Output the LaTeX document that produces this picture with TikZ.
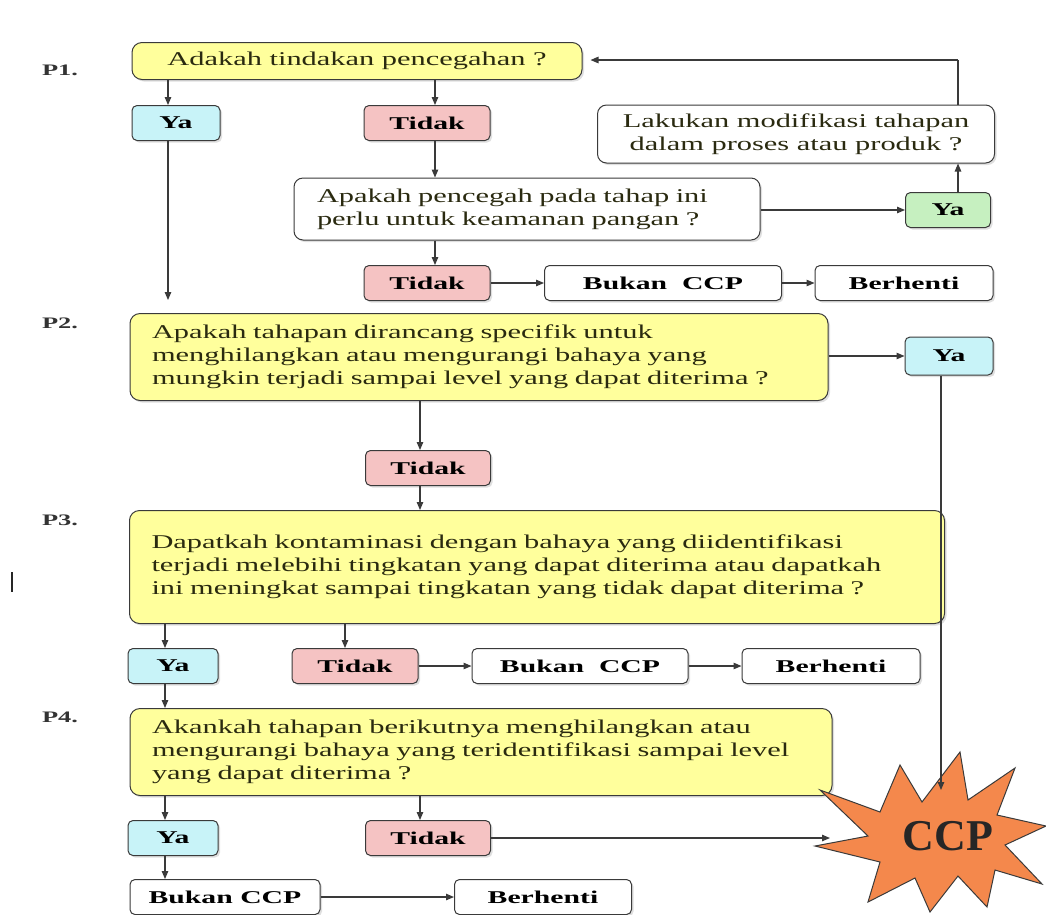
\documentclass[tikz,border=0pt]{standalone}
\usepackage{fontspec}
\setmainfont{Liberation Serif}
\newfontfamily\qfont[FakeStretch=1.56]{Liberation Serif}
\newfontfamily\lfont[FakeStretch=1.65]{Liberation Serif}
\usetikzlibrary{arrows.meta,shadows}
\definecolor{qyel}{HTML}{FFFF9C}
\definecolor{ycyan}{HTML}{C8F3F8}
\definecolor{npink}{HTML}{F5C3C3}
\definecolor{ygreen}{HTML}{C6F0C0}
\definecolor{edge}{HTML}{3A3A3A}
\definecolor{qtext}{HTML}{2A2A10}
\definecolor{ccporange}{HTML}{F4884C}
\begin{document}
\begin{tikzpicture}[x=1pt,y=-1pt,
  base/.style={draw=edge, line width=1pt, inner sep=0pt, text=black,
    drop shadow={shadow xshift=2pt, shadow yshift=-2pt, opacity=0.25}},
  qbox/.style={base, fill=qyel, rounded corners=10pt, text=qtext, font=\qfont\fontsize{19.5}{23}\selectfont},
  wbox/.style={base, fill=white, rounded corners=9pt, text=qtext, font=\qfont\fontsize{19.5}{23}\selectfont},
  lbl/.style={base, rounded corners=5pt, font=\lfont\bfseries\fontsize{18}{21}\selectfont},
  yes/.style={lbl, fill=ycyan},
  nope/.style={lbl, fill=npink},
  yesg/.style={lbl, fill=ygreen},
  plain/.style={lbl, fill=white},
  plab/.style={font=\lfont\bfseries\fontsize{16}{19}\selectfont, text=black!80},
  arr/.style={draw=edge, line width=1.1pt, -{Triangle[length=8pt,width=6.5pt]}},
  ln/.style={draw=edge, line width=1.1pt}
]
\clip (0,0) rectangle (1046,914);
\fill[white] (0,0) rectangle (1046,914);

% margin marks
\node[plab] (p1) at (60,70) {P1.};
\node[plab] (p2) at (60,323) {P2.};
\node[plab] (p3) at (60,520) {P3.};
\node[plab] (p4) at (60,717) {P4.};
\draw[line width=2pt, black!85] (12,572) -- (12,592);

% P1
\node[qbox, minimum width=450pt, minimum height=37pt] (q1) at (357,61) {Adakah tindakan pencegahan ?};
\node[yes, minimum width=88pt, minimum height=35pt] (ya1) at (176,123) {Ya};
\node[nope, minimum width=126pt, minimum height=35pt] (t1) at (427,123) {Tidak};
\node[wbox, minimum width=466pt, minimum height=62pt, text width=420pt, align=left] (q1b) at (527,209)
  {Apakah pencegah pada tahap ini\\perlu untuk keamanan pangan ?};
\node[yesg, minimum width=85pt, minimum height=35pt] (yag) at (948,210) {Ya};
\node[wbox, minimum width=397pt, minimum height=58pt, align=center] (mod) at (796,134)
  {Lakukan modifikasi tahapan\\dalam proses atau produk ?};
\node[nope, minimum width=126pt, minimum height=35pt] (t1b) at (427,283) {Tidak};
\node[plain, minimum width=237pt, minimum height=35pt] (bk1) at (663,283) {Bukan~~CCP};
\node[plain, minimum width=178pt, minimum height=35pt] (bh1) at (904,283) {Berhenti};
\coordinate (c1) at (168,300);
\coordinate (fb) at (958,60);

% P2
\node[qbox, minimum width=698pt, minimum height=87pt, text width=654pt, align=left] (q2) at (479,357)
  {Apakah tahapan dirancang specifik untuk\\menghilangkan atau mengurangi bahaya yang\\mungkin terjadi sampai level yang dapat diterima ?};
\node[yes, minimum width=88pt, minimum height=38pt] (ya2) at (949,356) {Ya};
\node[nope, minimum width=125pt, minimum height=35pt] (t2) at (428,468) {Tidak};

% P3
\node[qbox, minimum width=815pt, minimum height=113pt, text width=771pt, align=left] (q3) at (537,567)
  {Dapatkah kontaminasi dengan bahaya yang diidentifikasi\\terjadi melebihi tingkatan yang dapat diterima atau dapatkah\\ini meningkat sampai tingkatan yang tidak dapat diterima ?};
\node[yes, minimum width=90pt, minimum height=35pt] (ya3) at (173,666) {Ya};
\node[nope, minimum width=126pt, minimum height=35pt] (t3) at (355,666) {Tidak};
\node[plain, minimum width=216pt, minimum height=35pt] (bk3) at (580,666) {Bukan~~CCP};
\node[plain, minimum width=178pt, minimum height=35pt] (bh3) at (831,666) {Berhenti};

% P4
\node[qbox, minimum width=702pt, minimum height=87pt, text width=658pt, align=left] (q4) at (481,752)
  {Akankah tahapan berikutnya menghilangkan atau\\mengurangi bahaya yang teridentifikasi sampai level\\yang dapat diterima ?};
\node[yes, minimum width=90pt, minimum height=35pt] (ya4) at (173,838) {Ya};
\node[nope, minimum width=125pt, minimum height=35pt] (t4) at (428,838) {Tidak};
\node[plain, minimum width=190pt, minimum height=35pt] (bk4) at (225,897) {Bukan CCP};
\node[plain, minimum width=177pt, minimum height=35pt] (bh4) at (543,897) {Berhenti};

% CCP starburst
\draw[draw=edge, line width=1pt, fill=ccporange]
  (820,790) -- (880,812) -- (900,765) -- (922,802) -- (960,752) -- (968,800) -- (1015,768)
  -- (997,815) -- (1046,826) -- (1005,845) -- (1042,884) -- (995,870) -- (987,907)
  -- (958,876) -- (930,912) -- (915,878) -- (868,902) -- (880,862) -- (815,846)
  -- (868,836) -- cycle;
\node[font=\fontsize{44}{48}\selectfont\bfseries, text=black!85] (ccp) at (948,836) {CCP};
\coordinate (ccptop) at (ya2.south |- 0,790);
\coordinate (ccpleft) at (830,838);

% connectors P1
\draw[arr] ([xshift=-8pt]ya1.north |- q1.south) -- ([xshift=-8pt]ya1.north);
\draw[arr] ([xshift=8pt]t1.north |- q1.south) -- ([xshift=8pt]t1.north);
\draw[arr] ([xshift=-8pt]ya1.south) -- (c1);
\draw[arr] ([xshift=8pt]t1.south) -- ([xshift=8pt]t1.south |- q1b.north);
\draw[arr] ([xshift=8pt]t1b.north |- q1b.south) -- ([xshift=8pt]t1b.north);
\draw[arr] (q1b.east |- yag.west) -- (yag.west);
\draw[arr] ([xshift=10pt]yag.north) -- ([xshift=10pt]yag.north |- mod.south);
\draw[ln] ([xshift=10pt]yag.north |- mod.north) -- (fb);
\draw[arr] (fb) -- ([xshift=8pt]q1.east |- fb);
\draw[arr] (t1b.east) -- (bk1.west);
\draw[arr] (bk1.east) -- (bh1.west);

% connectors P2
\draw[arr] (q2.east |- ya2.west) -- (ya2.west);
\draw[arr] ([xshift=-8pt]ya2.south) -- ([xshift=-8pt]ccptop);
\draw[arr] ([xshift=-8pt]t2.north |- q2.south) -- ([xshift=-8pt]t2.north);
\draw[arr] ([xshift=-8pt]t2.south) -- ([xshift=-8pt]t2.south |- q3.north);

% connectors P3
\draw[arr] ([xshift=-8pt]ya3.north |- q3.south) -- ([xshift=-8pt]ya3.north);
\draw[arr] ([xshift=-10pt]t3.north |- q3.south) -- ([xshift=-10pt]t3.north);
\draw[arr] (t3.east) -- (bk3.west);
\draw[arr] (bk3.east) -- (bh3.west);
\draw[arr] ([xshift=-8pt]ya3.south) -- ([xshift=-8pt]ya3.south |- q4.north);

% connectors P4
\draw[arr] ([xshift=-8pt]ya4.north |- q4.south) -- ([xshift=-8pt]ya4.north);
\draw[arr] ([xshift=-8pt]t4.north |- q4.south) -- ([xshift=-8pt]t4.north);
\draw[arr] (t4.east) -- (ccpleft);
\draw[arr] ([xshift=-8pt]ya4.south) -- ([xshift=-8pt]ya4.south |- bk4.north);
\draw[arr] (bk4.east) -- (bh4.west);
\end{tikzpicture}
\end{document}
